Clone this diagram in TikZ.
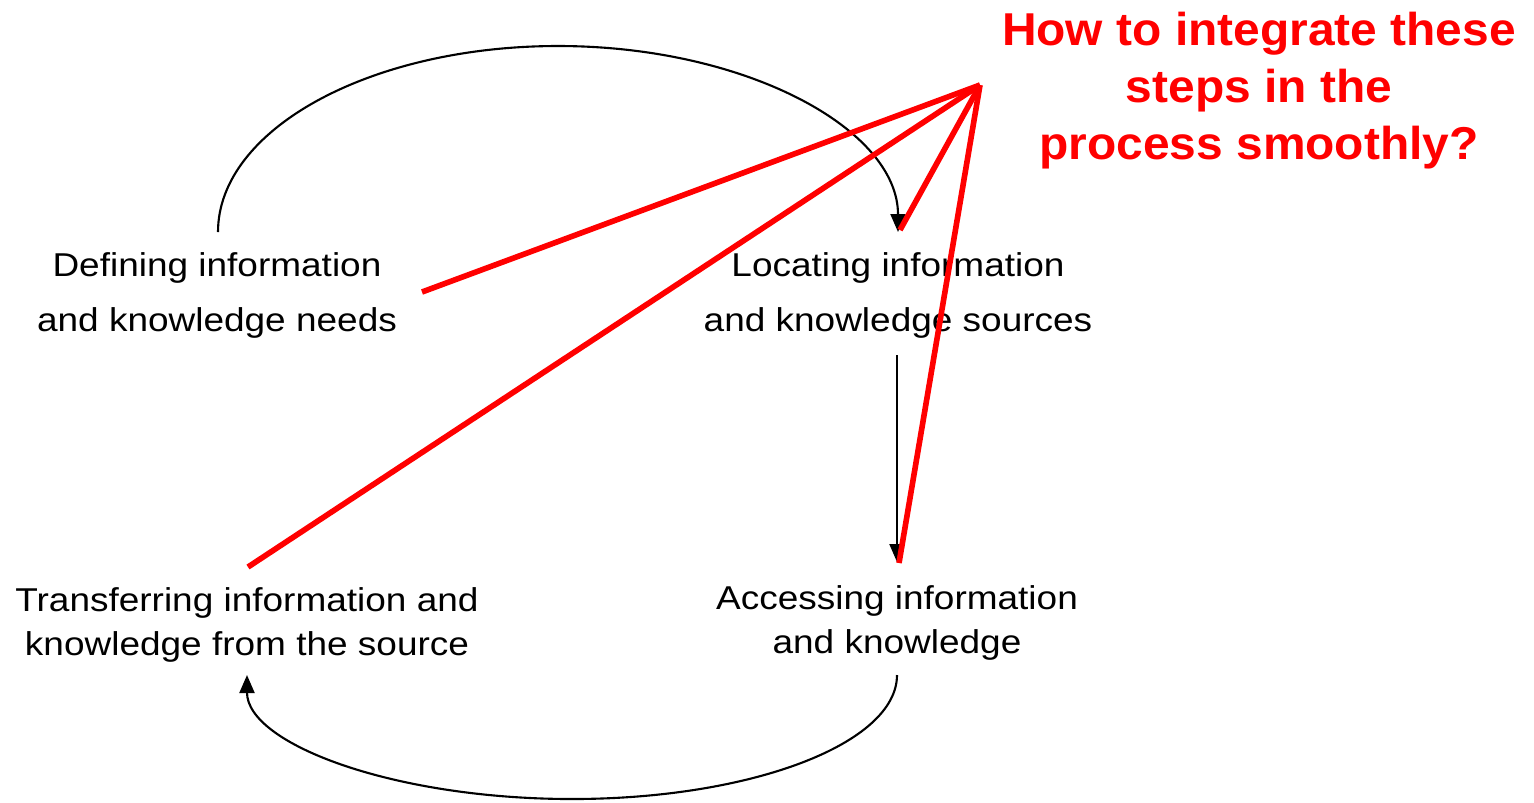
\documentclass[tikz,border=0pt]{standalone}
\usepackage{fontspec}
\usetikzlibrary{arrows.meta}
\newfontfamily\bodyfont[FakeStretch=1.12]{Liberation Sans}
\newfontfamily\titlefont[FakeStretch=1.04]{Liberation Sans}
\definecolor{qred}{RGB}{255,0,0}
\tikzset{
  steptop/.style={align=center, inner sep=0pt, anchor=base, font=\bodyfont\fontsize{9.39}{15.5}\selectfont},
  stepbot/.style={align=center, inner sep=0pt, anchor=base, font=\bodyfont\fontsize{9.39}{12.5}\selectfont},
  question/.style={align=center, inner sep=0pt, anchor=base, text=qred, font=\titlefont\bfseries\fontsize{13.1}{16.2}\selectfont},
  flow/.style={line width=0.6pt, -{Triangle[length=0.18cm, width=0.15cm]}},
  pointer/.style={draw=qred, line width=1.6pt},
}
\begin{document}
\begin{tikzpicture}[x=0.01cm, y=-0.01cm]
\useasboundingbox (0,0) rectangle (1534,802);
% base anchor = baseline of the last line
\node[steptop] (def) at (217,331) {Defining information\\and knowledge needs};
\node[steptop] (loc) at (898,331) {Locating information\\and knowledge sources};
\node[stepbot] (acc) at (897,653) {Accessing information\\and knowledge};
\node[stepbot] (tra) at (247,655) {Transferring information and\\knowledge from the source};
\node[question] (q) at (1259,159) {How to integrate these\\steps in the\\process smoothly?};
% arc end points
\coordinate (defTop) at (218,232);
\coordinate (locIn) at (898,232);
\coordinate (locOut) at (897,355);
\coordinate (accIn) at (897,562);
\coordinate (accOut) at (897,675);
\coordinate (traIn) at (247,675);
\draw[flow] (defTop) arc[start angle=180, end angle=360, x radius=340, y radius=186];
\draw[flow] (locOut) -- (accIn);
\draw[flow] (accOut) arc[start angle=0, end angle=180, x radius=325, y radius=124];
% red pointers
\coordinate (apex) at (980,85);
\coordinate (pDef) at (422,292);
\coordinate (pTra) at (248,567);
\coordinate (pLoc) at (900,230);
\coordinate (pAcc) at (899,563);
\draw[pointer] (apex) -- (pDef);
\draw[pointer] (apex) -- (pTra);
\draw[pointer] (apex) -- (pLoc);
\draw[pointer] (apex) -- (pAcc);
\end{tikzpicture}
\end{document}
